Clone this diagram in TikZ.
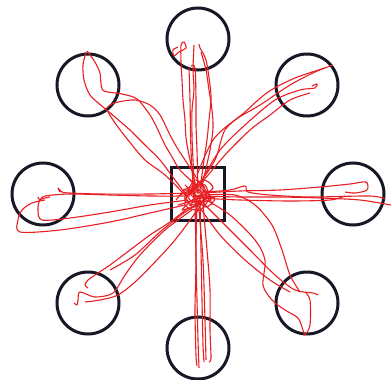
\documentclass[tikz,border=0pt]{standalone}
\usepackage{xcolor}
\usepackage{tikz}

\definecolor{ringcol}{RGB}{22,24,38}
\definecolor{trajred}{RGB}{232,30,34}

\begin{document}
\begin{tikzpicture}[
  x=1pt,y=-1pt,
  target/.style={draw=ringcol,circle,minimum size=62pt,inner sep=0pt,line width=3pt},
  home/.style={draw=ringcol,rectangle,minimum size=53pt,inner sep=0pt,line width=2.6pt},
  traj/.style={draw=trajred,line width=1.1pt,line join=round}
]
\useasboundingbox (0,0) rectangle (391,380);

% start box and the eight targets
\node[home] (home) at (198,194) {};
\node[target] (tN)  at (198,39)  {};
\node[target] (tNE) at (307,85)  {};
\node[target] (tE)  at (353,194) {};
\node[target] (tSE) at (307,303) {};
\node[target] (tS)  at (198,348) {};
\node[target] (tSW) at (88,303)  {};
\node[target] (tW)  at (43,194)  {};
\node[target] (tNW) at (88,85)   {};

% reaches to the top target
\draw[traj] plot[smooth,tension=0.5] coordinates {(197,192)(190,160)(186,138)(185,120)(183,100)(182,80)(181,62)(181,45)(184,42)(186,48)(179,52)(174,56)(173,50)(178,47)};
\draw[traj] plot[smooth,tension=0.5] coordinates {(195,196)(193,160)(192,135)(192,110)(194,90)(193,70)(194,45)};
\draw[traj] plot[smooth,tension=0.5] coordinates {(200,190)(204,160)(207,140)(209,120)(211,100)(210,85)(206,60)(200,48)(199,44)};
\draw[traj] plot[smooth,tension=0.5] coordinates {(198,194)(197,150)(196,125)(196,100)(195,68)(191,66)};
\draw[traj] plot[smooth,tension=0.5] coordinates {(202,186)(210,150)(213,128)(212,110)(209,90)(206,70)(201,52)};
\draw[traj] plot[smooth,tension=0.5] coordinates {(194,200)(191,150)(190,100)(189,68)};

% top left
\draw[traj] plot[smooth,tension=0.5] coordinates {(196,185)(180,170)(171,155)(165,145)(157,128)(150,115)(137,99)(122,94)(104,91)(101,83)(100,73)(95,62)(90,55)(87,51)};
\draw[traj] plot[smooth,tension=0.5] coordinates {(190,200)(175,180)(160,160)(145,145)(133,133)(130,130)(115,117)(103,107)(90,95)(84,80)(83,65)(86,52)};
\draw[traj] plot[smooth,tension=0.5] coordinates {(198,180)(185,160)(176,146)(170,135)(160,115)(150,105)(135,100)(118,102)(110,105)(107,108)};
\draw[traj] plot[smooth,tension=0.5] coordinates {(185,195)(165,175)(145,160)(128,140)(115,123)(108,112)};

% top right
\draw[traj] plot[smooth,tension=0.5] coordinates {(197,175)(213,140)(235,120)(260,105)(290,85)(315,72)(333,65)};
\draw[traj] plot[smooth,tension=0.5] coordinates {(202,180)(220,150)(245,125)(275,100)(300,90)(315,88)(317,84)(312,86)};
\draw[traj] plot[smooth,tension=0.5] coordinates {(200,185)(225,155)(250,130)(270,115)(290,100)(310,93)};
\draw[traj] plot[smooth,tension=0.5] coordinates {(195,190)(215,160)(225,130)(245,112)(268,92)(295,78)(325,68)};

% right
\draw[traj] plot[smooth,tension=0.5] coordinates {(200,196)(240,197)(280,197)(320,198)(360,200)(391,205)};
\draw[traj] plot[smooth,tension=0.5] coordinates {(202,193)(240,191)(280,190)(320,187)(350,184)(366,182)(367,190)(355,193)(345,192)};
\draw[traj] plot[smooth,tension=0.5] coordinates {(198,198)(240,200)(290,201)(330,200)(345,196)};
\draw[traj] plot[smooth,tension=0.5] coordinates {(205,192)(230,190)(245,186)(248,192)(270,195)(310,197)(370,196)(385,199)};

% bottom right
\draw[traj] plot[smooth,tension=0.5] coordinates {(200,200)(225,225)(250,250)(275,275)(295,290)(313,293)(318,295)};
\draw[traj] plot[smooth,tension=0.5] coordinates {(203,198)(230,215)(255,240)(265,260)(263,285)(272,300)(285,310)(298,318)(303,330)(305,335)(310,325)(310,300)(305,292)};
\draw[traj] plot[smooth,tension=0.5] coordinates {(205,195)(235,195)(255,205)(272,225)(282,250)(290,275)(300,292)};
\draw[traj] plot[smooth,tension=0.5] coordinates {(198,205)(220,235)(245,260)(270,280)(290,292)};

% bottom
\draw[traj] plot[smooth,tension=0.5] coordinates {(197,200)(196,250)(197,300)(198,340)(199,368)};
\draw[traj] plot[smooth,tension=0.5] coordinates {(200,198)(201,250)(202,300)(203,345)(204,362)};
\draw[traj] plot[smooth,tension=0.5] coordinates {(203,205)(207,250)(210,290)(210,330)(211,358)(209,362)};
\draw[traj] plot[smooth,tension=0.5] coordinates {(195,205)(196,260)(195,310)(196,355)(197,366)};
\draw[traj] plot[smooth,tension=0.5] coordinates {(199,210)(203,260)(205,320)(206,360)};

% bottom left
\draw[traj] plot[smooth,tension=0.5] coordinates {(188,208)(170,222)(150,235)(130,250)(110,265)(95,275)(88,280)(85,285)(88,288)};
\draw[traj] plot[smooth,tension=0.5] coordinates {(192,210)(165,230)(140,255)(125,275)(113,293)(95,297)(80,292)(78,300)(77,305)(74,303)};
\draw[traj] plot[smooth,tension=0.5] coordinates {(196,212)(175,240)(155,262)(135,282)(118,295)(100,300)(85,302)};
\draw[traj] plot[smooth,tension=0.5] coordinates {(185,212)(160,232)(135,255)(110,270)};

% left
\draw[traj] plot[smooth,tension=0.5] coordinates {(190,196)(150,196)(110,195)(70,194)(45,196)(40,200)(38,197)};
\draw[traj] plot[smooth,tension=0.5] coordinates {(188,200)(150,205)(110,212)(70,218)(42,220)(38,210)(40,200)(50,197)};
\draw[traj] plot[smooth,tension=0.5] coordinates {(185,205)(150,213)(110,222)(60,230)(20,232)(18,220)(22,210)(32,203)(45,200)};
\draw[traj] plot[smooth,tension=0.5] coordinates {(190,193)(150,194)(100,194)(70,193)(62,192)(58,188)(60,192)};

% scribble inside the start box
\draw[traj] plot[smooth,tension=0.5] coordinates {(185,185)(200,200)(190,205)(205,190)(195,180)(185,200)(210,200)(200,185)(188,195)};
\draw[traj] plot[smooth,tension=0.5] coordinates {(180,195)(195,190)(210,195)(200,210)(185,205)(192,188)(205,185)(212,205)};
\draw[traj] plot[smooth,tension=0.5] coordinates {(190,180)(205,200)(182,210)(200,195)(195,215)(208,190)};
\draw[traj] plot[smooth,tension=0.5] coordinates {(183,190)(198,186)(207,197)(193,207)(186,197)(199,192)(204,205)(190,200)};
\draw[traj] plot[smooth,tension=0.5] coordinates {(178,205)(196,199)(213,188)(203,180)(190,192)(197,203)(182,214)};
\draw[traj] plot[smooth,tension=0.5] coordinates {(192,183)(196,196)(215,198)(205,207)(188,190)(176,200)};
\end{tikzpicture}
\end{document}
